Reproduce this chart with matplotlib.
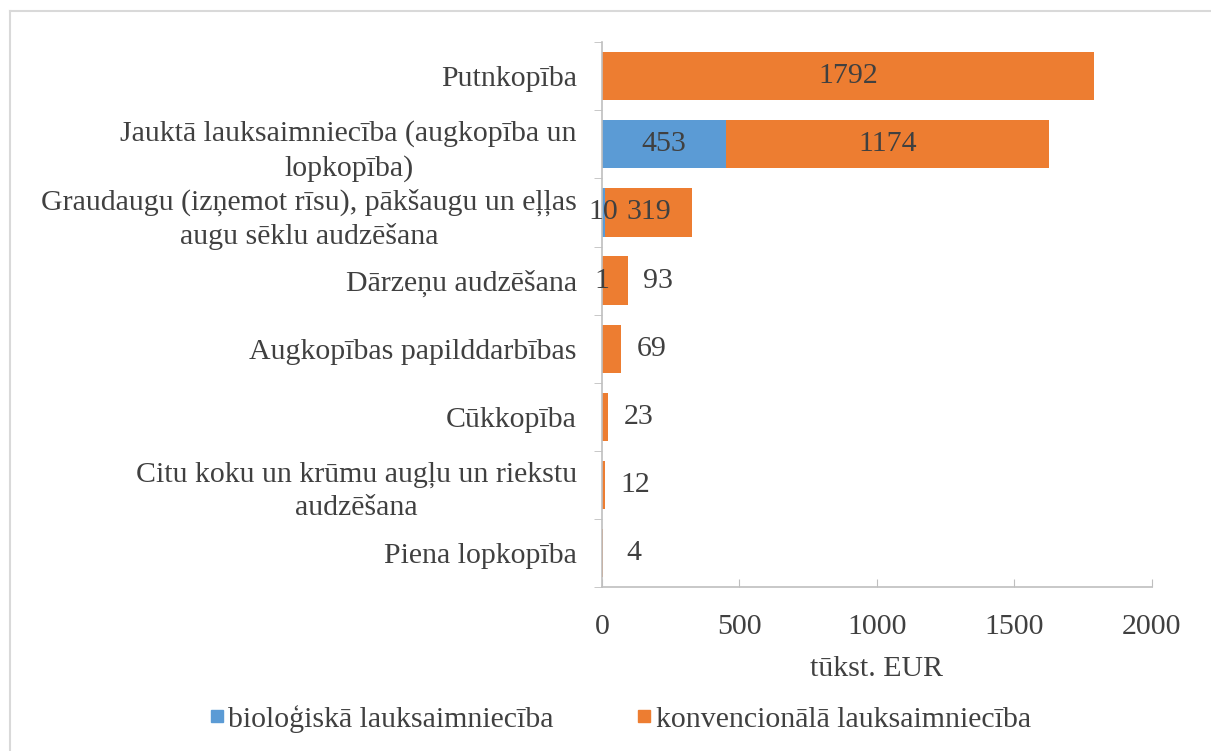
import matplotlib
matplotlib.use("Agg")
import matplotlib.pyplot as plt
from matplotlib.lines import Line2D
import numpy as np

categories = [
    "Putnkopība",
    "Jauktā lauksaimniecība (augkopība un\nlopkopība)",
    "Graudaugu (izņemot rīsu), pākšaugu un eļļas\naugu sēklu audzēšana",
    "Dārzeņu audzēšana",
    "Augkopības papilddarbības",
    "Cūkkopība",
    "Citu koku un krūmu augļu un riekstu\naudzēšana",
    "Piena lopkopība",
]
bio = [0, 453, 10, 1, 0, 0, 0, 0]
conv = [1792, 1174, 319, 93, 69, 23, 12, 4]
series_names = ["bioloģiskā lauksaimniecība", "konvencionālā lauksaimniecība"]
xticks = [0, 500, 1000, 1500, 2000]
xlabel = "tūkst. EUR"

BLUE = "#5B9BD5"
ORANGE = "#ED7D31"
TXT = "#404040"
AX = "#BFBFBF"

plt.rcParams["font.family"] = ["Liberation Serif", "DejaVu Serif"]

fig = plt.figure(figsize=(12.11, 7.51), dpi=100)
ax = fig.add_axes([0.497, 0.218, 0.454, 0.726])

y = np.arange(len(categories))
bio_a = np.array(bio, dtype=float)
conv_a = np.array(conv, dtype=float)
h = 0.71
ax.barh(y, bio_a, height=h, color=BLUE, label=series_names[0])
ax.barh(y, conv_a, left=bio_a, height=h, color=ORANGE, label=series_names[1])

fs = 21.5
ax.set_ylim(len(categories) - 0.5, -0.5)
ax.set_xlim(0, 2000)
ax.set_xticks(xticks)
ax.set_xticklabels([str(t) for t in xticks])
ax.set_yticks(y)
ax.set_yticklabels(categories, linespacing=1.35, multialignment="center")

ax.tick_params(axis="y", length=0, pad=18, labelsize=fs, labelcolor=TXT)
ax.tick_params(axis="x", direction="in", length=6, color=AX, pad=19,
               labelsize=fs, labelcolor=TXT)
# category separator ticks
ax.set_yticks(np.arange(-0.5, len(categories), 1.0), minor=True)
ax.tick_params(axis="y", which="minor", length=6, color=AX, direction="out")

for s in ["top", "right"]:
    ax.spines[s].set_visible(False)
for s in ["left", "bottom"]:
    ax.spines[s].set_color(AX)
    ax.spines[s].set_linewidth(1.2)

ax.set_xlabel(xlabel, fontsize=fs, color=TXT, labelpad=12)

# data labels
for i in range(len(categories)):
    b = bio_a[i]
    c = conv_a[i]
    if b > 0:
        ax.text(b / 2, i, f"{int(b)}", ha="center", va="center",
                fontsize=fs, color=TXT)
    if c > 0:
        if c >= 200:
            ax.text(b + c / 2, i, f"{int(c)}", ha="center", va="center",
                    fontsize=fs, color=TXT)
        else:
            ax.annotate(f"{int(c)}", xy=(b + c, i), xytext=(22, 0),
                        textcoords="offset points", ha="center", va="center",
                        fontsize=fs, color=TXT)

handles = [
    Line2D([], [], marker="s", linestyle="none", markersize=9,
           markerfacecolor=BLUE, markeredgecolor=BLUE),
    Line2D([], [], marker="s", linestyle="none", markersize=9,
           markerfacecolor=ORANGE, markeredgecolor=ORANGE),
]
leg = fig.legend(handles, series_names, loc="center", bbox_to_anchor=(0.51, 0.043),
                 ncol=2, frameon=False, fontsize=fs, handletextpad=0.0,
                 columnspacing=2.6, handlelength=0.8)
for t in leg.get_texts():
    t.set_color(TXT)

# chart border (top and left visible)
fig.add_artist(Line2D([10 / 1211, 1.0], [1 - 11 / 751, 1 - 11 / 751],
                      transform=fig.transFigure, color="#D9D9D9", linewidth=1.5))
fig.add_artist(Line2D([10 / 1211, 10 / 1211], [0.0, 1 - 11 / 751],
                      transform=fig.transFigure, color="#D9D9D9", linewidth=1.5))

fig.savefig("out.png", dpi=100, facecolor="white")
